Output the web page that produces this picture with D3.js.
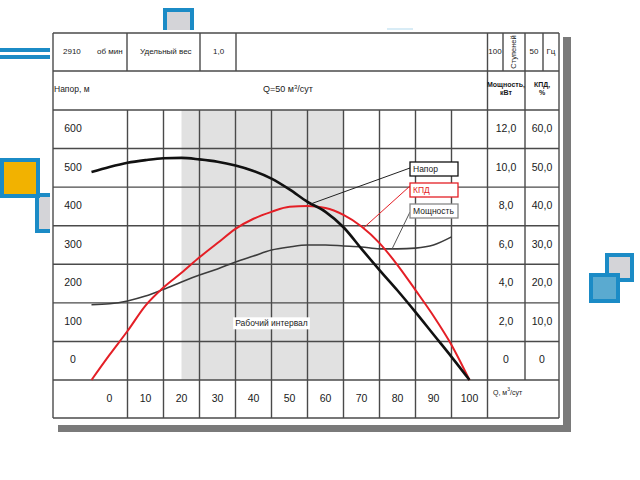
<!DOCTYPE html>
<html>
<head>
<meta charset="utf-8">
<script src="https://cdn.jsdelivr.net/npm/d3@7"></script>
<style>
  body { margin: 0; background: #fff; }
  text { font-family: "Liberation Sans", Arial, sans-serif; fill: #1a1a1a; }
</style>
</head>
<body>
<script>
// Width and height
var w = 640,
    h = 480;

// Flow values (m3/day) at which the curves were read
var qValues = [-5, 0, 5, 10, 15, 20, 25, 30, 35, 40, 45, 50, 55, 60, 65, 70, 75, 80, 85, 90, 95, 100];
// Head, m
var headValues = [539, 552, 563, 570, 575, 576, 572, 566, 556, 542, 522, 494, 462, 436, 396, 340, 285, 232, 176, 118, 60, 0];
// Efficiency, %
var effValues = [0, 6.5, 12.7, 19.3, 24, 27.8, 31.8, 35.5, 39.2, 41.8, 43.6, 44.9, 45.1, 44.6, 42.8, 39.8, 35.5, 29.8, 23.3, 16.6, 9.1, 0];
// Power, kW (curve stops at 95)
var powerQ = [-5, 0, 5, 10, 15, 20, 25, 30, 35, 40, 45, 50, 55, 60, 65, 70, 75, 80, 85, 90, 95];
var powerValues = [3.9, 3.95, 4.1, 4.35, 4.7, 5.08, 5.44, 5.76, 6.12, 6.43, 6.74, 6.9, 7.0, 7.0, 6.95, 6.9, 6.8, 6.8, 6.84, 7.0, 7.42];

// Tick labels
var qTicks = [0, 10, 20, 30, 40, 50, 60, 70, 80, 90, 100];
var headTicks = [0, 100, 200, 300, 400, 500, 600];
var powerTicks = [0, 2, 4, 6, 8, 10, 12];
var effTicks = [0, 10, 20, 30, 40, 50, 60];
var gridQ = [5, 15, 25, 35, 45, 55, 65, 75, 85, 95, 105];
var gridHead = [0, 100, 200, 300, 400, 500, 600, 700];

// Working interval
var workRange = [20, 65];

// Legend
var legendNames = ['Напор', 'КПД', 'Мощность'];
var legendColors = ['#111', '#e41f26', '#888'];
var leaderQ = [56, 70.5, 78.5];

// Scales
var xScale = d3.scaleLinear().domain([0, 100]).range([109.5, 469.5]);
var yHead = d3.scaleLinear().domain([0, 700]).range([380, 110]);
var yPower = d3.scaleLinear().domain([0, 14]).range([380, 110]);
var yEff = d3.scaleLinear().domain([0, 70]).range([380, 110]);

var fmt = function(v) { return v === 0 ? '0' : d3.format('.1f')(v).replace('.', ','); };

var svg = d3.select('body')
            .append('svg')
            .attr('width', w)
            .attr('height', h);

var blue = '#1b8bc6';

// Decorations behind the sheet
svg.append('rect').attr('x', 165).attr('y', 10).attr('width', 27).attr('height', 40)
   .attr('fill', '#d4d4d8').attr('stroke', blue).attr('stroke-width', 4);
svg.append('rect').attr('x', 387).attr('y', 28).attr('width', 26).attr('height', 2)
   .attr('fill', '#d8ecf6');
svg.append('rect').attr('x', 0).attr('y', 48).attr('width', 56).attr('height', 4).attr('fill', blue);
svg.append('rect').attr('x', 0).attr('y', 55).attr('width', 56).attr('height', 4).attr('fill', blue);
svg.append('rect').attr('x', 37).attr('y', 195).attr('width', 36).attr('height', 36)
   .attr('fill', '#d4d4d8').attr('stroke', blue).attr('stroke-width', 4);
svg.append('rect').attr('x', 2).attr('y', 160).attr('width', 36).attr('height', 36)
   .attr('fill', '#f2b200').attr('stroke', blue).attr('stroke-width', 4);
svg.append('rect').attr('x', 607).attr('y', 255).attr('width', 25).attr('height', 25)
   .attr('fill', '#d4d4d8').attr('stroke', blue).attr('stroke-width', 4);
svg.append('rect').attr('x', 591).attr('y', 275).attr('width', 27).attr('height', 26)
   .attr('fill', '#5aaad0').attr('stroke', blue).attr('stroke-width', 4);

// Shadow and white sheet
svg.append('rect').attr('x', 563).attr('y', 37).attr('width', 8).attr('height', 395).attr('fill', '#7a7a7a');
svg.append('rect').attr('x', 58).attr('y', 425).attr('width', 513).attr('height', 7).attr('fill', '#7a7a7a');
svg.append('rect').attr('x', 50).attr('y', 30).attr('width', 512).attr('height', 391).attr('fill', '#fff');

// Working interval band
svg.append('rect')
   .attr('x', xScale(workRange[0]))
   .attr('y', yHead(700))
   .attr('width', xScale(workRange[1]) - xScale(workRange[0]))
   .attr('height', yHead(0) - yHead(700))
   .attr('fill', '#e1e1e1');

// Table lines
var tLeft = 53, tRight = 559, tTop = 33, tMid = 71, tBottom = 418;
var grid = svg.append('g').attr('stroke', '#4a4a4a').attr('stroke-width', 1.4);

function hline(y, x1, x2) {
  grid.append('line').attr('x1', x1).attr('x2', x2).attr('y1', y).attr('y2', y);
}
function vline(x, y1, y2) {
  grid.append('line').attr('x1', x).attr('x2', x).attr('y1', y1).attr('y2', y2);
}

hline(tTop, tLeft, tRight);
hline(tMid, tLeft, tRight);
hline(tBottom, tLeft, tRight);
gridHead.forEach(function(v) { hline(yHead(v), tLeft, tRight); });
vline(tLeft, tTop, tBottom);
vline(tRight, tTop, tBottom);
gridQ.forEach(function(q, i) {
  vline(xScale(q), i === gridQ.length - 1 ? tTop : yHead(700), tBottom);
});
vline(525, tTop, yHead(0));
[127, 200, 236, 503, 543].forEach(function(x) { vline(x, tTop, tMid); });

// Header texts
function label(x, y, t, size, anchor) {
  return svg.append('text')
            .attr('x', x).attr('y', y)
            .attr('font-size', size)
            .attr('text-anchor', anchor || 'start')
            .attr('dominant-baseline', 'middle')
            .text(t);
}
label(63, 52, '2910', 8);
label(97, 52, 'об мин', 8);
label(140, 52, 'Удельный вес', 8);
label(213, 52, '1,0', 8);
label(495, 52, '100', 8, 'middle');
label(0, 0, 'Ступеней', 7.5, 'middle')
  .attr('transform', 'translate(514,52) rotate(-90)');
label(534, 52, '50', 8, 'middle');
label(551, 52, 'Гц', 8, 'middle');
label(54, 90, 'Напор, м', 8.5);
var qt = label(263, 90, 'Q=50 м', 9);
qt.append('tspan').attr('dy', -3).attr('font-size', 6).text('3');
qt.append('tspan').attr('dy', 3).text('/сут');
label(506, 85, 'Мощность,', 7, 'middle').attr('font-weight', 'bold');
label(506, 93, 'кВт', 7, 'middle').attr('font-weight', 'bold');
label(542, 85, 'КПД,', 7, 'middle').attr('font-weight', 'bold');
label(542, 93, '%', 7, 'middle').attr('font-weight', 'bold');

// Axis labels
headTicks.forEach(function(v) { label(73, yHead(v + 50), v, 10.5, 'middle'); });
powerTicks.forEach(function(v) { label(506, yPower(v + 1), fmt(v), 10.5, 'middle'); });
effTicks.forEach(function(v) { label(542, yEff(v + 5), fmt(v), 10.5, 'middle'); });
qTicks.forEach(function(v) { label(xScale(v), 399, v, 10.5, 'middle'); });
var qa = label(493, 393, 'Q, м', 7);
qa.append('tspan').attr('dy', -3).attr('font-size', 5).text('3');
qa.append('tspan').attr('dy', 3).text('/сут');

// Working interval label
var wl = label(xScale(45), yHead(145), 'Рабочий интервал', 8.5, 'middle');
var bb = wl.node().getBBox();
svg.insert('rect', function() { return wl.node(); })
   .attr('x', bb.x - 2).attr('y', bb.y - 1)
   .attr('width', bb.width + 4).attr('height', bb.height + 2)
   .attr('fill', '#fff');

// Curves
var headLine = d3.line()
                 .x(function(d, i) { return xScale(qValues[i]); })
                 .y(function(d) { return yHead(d); })
                 .curve(d3.curveMonotoneX);
var effLine = d3.line()
                .x(function(d, i) { return xScale(qValues[i]); })
                .y(function(d) { return yEff(d); })
                .curve(d3.curveMonotoneX);
var powerLine = d3.line()
                  .x(function(d, i) { return xScale(powerQ[i]); })
                  .y(function(d) { return yPower(d); })
                  .curve(d3.curveMonotoneX);

svg.append('path').datum(powerValues).attr('d', powerLine)
   .attr('fill', 'none').attr('stroke', '#3c3c3c').attr('stroke-width', 1.6);
svg.append('path').datum(effValues).attr('d', effLine)
   .attr('fill', 'none').attr('stroke', '#e41f26').attr('stroke-width', 2);
svg.append('path').datum(headValues).attr('d', headLine)
   .attr('fill', 'none').attr('stroke', '#111').attr('stroke-width', 2.6);

// Legend with leader lines
var headAt = d3.scaleLinear().domain(qValues).range(headValues);
var effAt = d3.scaleLinear().domain(qValues).range(effValues);
var powerAt = d3.scaleLinear().domain(powerQ).range(powerValues);
var anchors = [
  [xScale(leaderQ[0]), yHead(headAt(leaderQ[0]))],
  [xScale(leaderQ[1]), yEff(effAt(leaderQ[1]))],
  [xScale(leaderQ[2]), yPower(powerAt(leaderQ[2]))]
];
var boxY = [162, 183, 204],
    startDy = [6, 3, 8],
    leaderColors = ['#222', '#e41f26', '#555'];

legendNames.forEach(function(name, i) {
  svg.append('line')
     .attr('x1', 410).attr('y1', boxY[i] + startDy[i])
     .attr('x2', anchors[i][0]).attr('y2', anchors[i][1])
     .attr('stroke', leaderColors[i]).attr('stroke-width', 1);
  svg.append('rect')
     .attr('x', 410).attr('y', boxY[i]).attr('width', 48).attr('height', 14)
     .attr('fill', '#fff').attr('stroke', legendColors[i]).attr('stroke-width', 1.3);
  label(413, boxY[i] + 7.5, name, 8.5)
     .style('fill', i === 1 ? '#e41f26' : '#1a1a1a');
});
</script>
</body>
</html>
